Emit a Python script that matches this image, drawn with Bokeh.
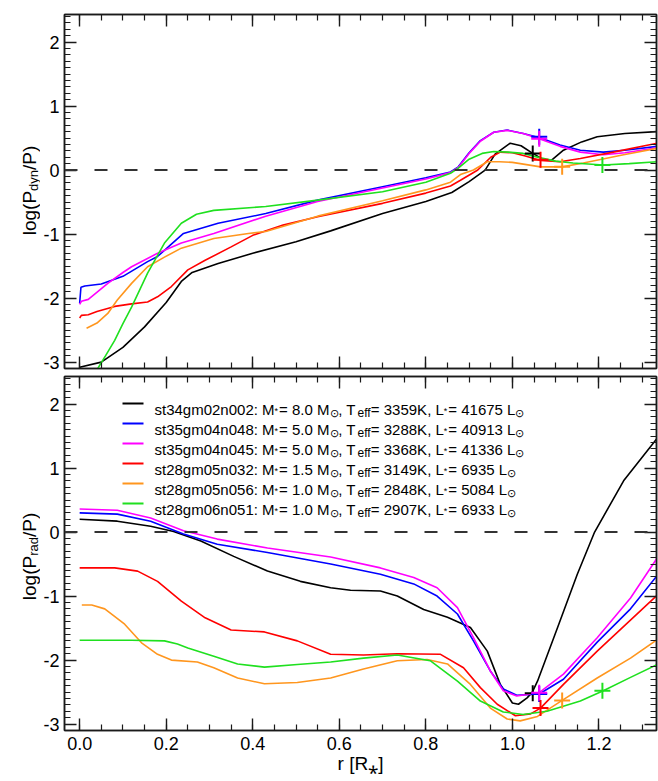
import math
from bokeh.plotting import figure
from bokeh.layouts import column, row
from bokeh.models import Range1d, LinearAxis, FixedTicker, Span, ColumnDataSource
from bokeh.core.properties import value
from bokeh.embed import file_html
from bokeh.resources import INLINE

# ---------------- data ----------------
MODELS = ["st34gm02n002", "st35gm04n048", "st35gm04n045",
          "st28gm05n032", "st28gm05n056", "st28gm06n051"]
MASS = ["8.0", "5.0", "5.0", "1.5", "1.0", "1.0"]
TEFF = ["3359", "3288", "3368", "3149", "2848", "2907"]
LUM = ["41675", "40913", "41336", "6935", "5084", "6933"]
COLORS = ["#000000", "#0000ff", "#ff00ff", "#ff0000", "#ff961e", "#1fe01f"]

# log(P_dyn/P)
DYN_R_BLACK = [0.0, 0.05, 0.10, 0.15, 0.20, 0.235, 0.26, 0.32, 0.40, 0.50, 0.58, 0.70, 0.80, 0.86, 0.90,
               0.937, 0.96, 0.995, 1.02, 1.047, 1.07, 1.09, 1.118, 1.16, 1.196, 1.26, 1.335]
DYN_Y_BLACK = [-3.08, -3.00, -2.77, -2.45, -2.07, -1.74, -1.60, -1.46, -1.30, -1.12, -0.95, -0.68, -0.49,
               -0.35, -0.18, 0.00, 0.25, 0.42, 0.38, 0.26, 0.17, 0.15, 0.31, 0.44, 0.52, 0.57, 0.60]
DYN_R_BLUE = [0.0, 0.003, 0.012, 0.05, 0.10, 0.157, 0.18, 0.21, 0.24, 0.32, 0.43, 0.55, 0.70, 0.80, 0.857,
              0.875, 0.90, 0.926, 0.957, 0.988, 1.025, 1.065, 1.11, 1.157, 1.21, 1.26, 1.335]
DYN_Y_BLUE = [-2.08, -1.83, -1.81, -1.78, -1.66, -1.43, -1.35, -1.17, -0.99, -0.83, -0.68, -0.47, -0.26,
              -0.12, -0.03, 0.05, 0.27, 0.46, 0.59, 0.625, 0.57, 0.50, 0.39, 0.31, 0.28, 0.31, 0.37]
DYN_R_MAGENTA = [0.0, 0.004, 0.02, 0.065, 0.10, 0.12, 0.18, 0.235, 0.31, 0.43, 0.55, 0.70, 0.80, 0.857,
                 0.875, 0.90, 0.926, 0.957, 0.988, 1.025, 1.062, 1.11, 1.157, 1.21, 1.26, 1.335]
DYN_Y_MAGENTA = [-2.10, -2.05, -2.02, -1.77, -1.60, -1.51, -1.30, -1.14, -0.99, -0.72, -0.49, -0.28, -0.14,
                 -0.04, 0.04, 0.26, 0.45, 0.59, 0.62, 0.57, 0.49, 0.37, 0.28, 0.24, 0.27, 0.35]
DYN_R_RED = [0.0, 0.004, 0.02, 0.04, 0.081, 0.12, 0.157, 0.18, 0.212, 0.25, 0.29, 0.35, 0.40, 0.47, 0.55,
             0.70, 0.80, 0.857, 0.88, 0.92, 0.95, 0.972, 1.00, 1.03, 1.065, 1.11, 1.157, 1.233, 1.335]
DYN_Y_RED = [-2.31, -2.27, -2.26, -2.21, -2.13, -2.09, -2.06, -1.98, -1.82, -1.56, -1.41, -1.20, -1.02,
             -0.86, -0.73, -0.52, -0.36, -0.25, -0.16, 0.00, 0.20, 0.28, 0.27, 0.22, 0.15, 0.13, 0.18,
             0.28, 0.42]
DYN_R_ORANGE = [0.016, 0.04, 0.065, 0.087, 0.12, 0.157, 0.196, 0.235, 0.31, 0.39, 0.43, 0.55, 0.70, 0.80,
                0.857, 0.88, 0.91, 0.942, 0.97, 1.0, 1.065, 1.115, 1.164, 1.257, 1.335]
DYN_Y_ORANGE = [-2.47, -2.39, -2.24, -2.03, -1.77, -1.51, -1.36, -1.22, -1.07, -0.99, -0.96, -0.72, -0.48,
                -0.31, -0.19, -0.07, 0.00, 0.13, 0.13, 0.12, 0.05, 0.05, 0.11, 0.24, 0.34]
DYN_R_GREEN = [0.04, 0.06, 0.081, 0.10, 0.12, 0.157, 0.196, 0.235, 0.27, 0.31, 0.43, 0.55, 0.70, 0.80,
               0.857, 0.875, 0.90, 0.93, 0.957, 0.99, 1.025, 1.065, 1.10, 1.14, 1.21, 1.27, 1.335]
DYN_Y_GREEN = [-3.12, -2.90, -2.66, -2.40, -2.14, -1.61, -1.14, -0.83, -0.69, -0.63, -0.57, -0.47, -0.34,
               -0.19, -0.05, 0.03, 0.17, 0.26, 0.29, 0.28, 0.26, 0.19, 0.14, 0.11, 0.08, 0.10, 0.13]

# log(P_rad/P)
RAD_R_BLACK = [0.0, 0.087, 0.164, 0.217, 0.28, 0.356, 0.434, 0.51, 0.58, 0.626, 0.695, 0.734, 0.795, 0.85,
               0.903, 0.942, 0.972, 1.0, 1.014, 1.034, 1.046, 1.058, 1.104, 1.15, 1.19, 1.257, 1.335]
RAD_Y_BLACK = [0.20, 0.17, 0.09, 0.01, -0.14, -0.38, -0.61, -0.77, -0.87, -0.91, -0.92, -1.00, -1.21,
               -1.33, -1.49, -1.86, -2.38, -2.67, -2.69, -2.59, -2.50, -2.33, -1.50, -0.66, 0.00, 0.80, 1.47]
RAD_R_BLUE = [0.0, 0.087, 0.164, 0.24, 0.318, 0.434, 0.58, 0.695, 0.772, 0.826, 0.873, 0.91, 0.949, 0.979,
              1.01, 1.062, 1.118, 1.196, 1.273, 1.337]
RAD_Y_BLUE = [0.30, 0.28, 0.17, -0.03, -0.19, -0.32, -0.50, -0.66, -0.81, -1.00, -1.28, -1.70, -2.17,
              -2.45, -2.55, -2.53, -2.30, -1.72, -1.20, -0.66]
RAD_R_MAGENTA = [0.0, 0.087, 0.164, 0.24, 0.318, 0.434, 0.58, 0.695, 0.772, 0.826, 0.873, 0.91, 0.949,
                 0.979, 1.01, 1.062, 1.118, 1.196, 1.273, 1.337]
RAD_Y_MAGENTA = [0.36, 0.34, 0.22, 0.02, -0.11, -0.25, -0.39, -0.56, -0.71, -0.87, -1.18, -1.65, -2.17,
                 -2.48, -2.56, -2.51, -2.22, -1.65, -1.03, -0.38]
RAD_R_RED = [0.0, 0.081, 0.134, 0.18, 0.235, 0.29, 0.35, 0.427, 0.503, 0.58, 0.656, 0.734, 0.834, 0.887,
             0.926, 0.965, 1.007, 1.042, 1.065, 1.118, 1.196, 1.337]
RAD_Y_RED = [-0.56, -0.56, -0.61, -0.77, -1.08, -1.34, -1.53, -1.56, -1.70, -1.91, -1.92, -1.90, -1.91,
             -2.12, -2.43, -2.69, -2.87, -2.84, -2.75, -2.38, -1.86, -0.97]
RAD_R_ORANGE = [0.005, 0.028, 0.058, 0.104, 0.143, 0.18, 0.212, 0.272, 0.31, 0.365, 0.427, 0.503, 0.58,
                0.656, 0.734, 0.803, 0.85, 0.903, 0.949, 0.988, 1.018, 1.058, 1.115, 1.196, 1.273, 1.337]
RAD_Y_ORANGE = [-1.14, -1.14, -1.20, -1.44, -1.73, -1.91, -2.00, -2.03, -2.12, -2.28, -2.37, -2.35, -2.28,
                -2.14, -2.01, -1.99, -2.06, -2.38, -2.75, -2.92, -2.95, -2.88, -2.63, -2.28, -1.97, -1.67]
RAD_R_GREEN = [0.0, 0.12, 0.196, 0.226, 0.25, 0.31, 0.365, 0.427, 0.503, 0.58, 0.656, 0.734, 0.81, 0.873,
               0.926, 0.979, 1.025, 1.08, 1.157, 1.21, 1.273, 1.337]
RAD_Y_GREEN = [-1.69, -1.69, -1.70, -1.75, -1.81, -1.94, -2.06, -2.11, -2.07, -2.03, -1.97, -1.92, -2.01,
               -2.33, -2.64, -2.81, -2.85, -2.80, -2.64, -2.48, -2.27, -2.06]

# "+" markers
MARK_R = [1.047, 1.062, 1.062, 1.065, 1.115, 1.208]
MARK_DYN = [0.26, 0.52, 0.49, 0.16, 0.05, 0.08]
MARK_RAD = [-2.52, -2.53, -2.51, -2.75, -2.63, -2.48]

X_TICKS = [0.0, 0.2, 0.4, 0.6, 0.8, 1.0, 1.2]
X_LABELS = ["0.0", "0.2", "0.4", "0.6", "0.8", "1.0", "1.2"]
Y_TICKS = [-3, -2, -1, 0, 1, 2]
Y_LABELS = ["-3", "-2", "-1", "0", "1", "2"]
X_TITLE = "r [R\u204e]"

# ---------------- layout constants ----------------
FONT = "Liberation Sans"
X_RANGE = (-0.035, 1.333)
Y_RANGE = (-3.1, 2.43)
FW, FH = 592, 354
LEFT_COL = 40          # width of the column holding the rotated y titles
FRAME_LEFT = 64        # page x of frame's left edge
PX_X = FW / (X_RANGE[1] - X_RANGE[0])
PX_Y = FH / (Y_RANGE[1] - Y_RANGE[0])
TOP_H = 14 + FH + 4     # 372
BOT_H = 781 - TOP_H     # 409
BOT_BORDER = BOT_H - 4 - FH

X_MINOR = [round(0.05 * i, 3) for i in range(0, 27)]
Y_MINOR = [round(-3.1 + 0.1 * i, 2) for i in range(0, 56)]

DYN_R = [DYN_R_BLACK, DYN_R_BLUE, DYN_R_MAGENTA, DYN_R_RED, DYN_R_ORANGE, DYN_R_GREEN]
DYN_Y = [DYN_Y_BLACK, DYN_Y_BLUE, DYN_Y_MAGENTA, DYN_Y_RED, DYN_Y_ORANGE, DYN_Y_GREEN]
RAD_R = [RAD_R_BLACK, RAD_R_BLUE, RAD_R_MAGENTA, RAD_R_RED, RAD_R_ORANGE, RAD_R_GREEN]
RAD_Y = [RAD_Y_BLACK, RAD_Y_BLUE, RAD_Y_MAGENTA, RAD_Y_RED, RAD_Y_ORANGE, RAD_Y_GREEN]

ARIAL = {' ': 278, ':': 278, ',': 278, '.': 278, '=': 584, '*': 389, 'K': 667, 'L': 556, 'M': 833,
         'T': 611, 'e': 556, 'f': 278, 'g': 556, 'm': 833, 'n': 556, 's': 500, 't': 278, 'l': 222,
         'o': 556, '(': 333, ')': 333, 'P': 667, '/': 278, 'd': 556, 'y': 500, 'r': 333, 'a': 556,
         '[': 278, ']': 278, 'R': 722, '\u2299': 800}
for _d in "0123456789":
    ARIAL[_d] = 556


def text_w(s, size):
    return sum(ARIAL.get(c, 556) for c in s) * size / 1000.0


def style_axis(ax, ticks, minor, labels=None):
    ax.ticker = FixedTicker(ticks=ticks, minor_ticks=minor)
    ax.major_tick_in = 12
    ax.major_tick_out = 0
    ax.minor_tick_in = 6
    ax.minor_tick_out = 0
    ax.axis_line_color = "#1a1a1a"
    ax.axis_line_width = 1.5
    ax.major_tick_line_color = "#1a1a1a"
    ax.major_tick_line_width = 1.4
    ax.minor_tick_line_color = "#1a1a1a"
    ax.minor_tick_line_width = 1.2
    ax.axis_label = None
    ax.axis_label_standoff = 0
    if labels is None:
        ax.major_label_text_font_size = "0px"
        ax.major_label_standoff = 0
        ax.major_label_overrides = {t: "" for t in ticks}
    else:
        ax.major_label_overrides = {t: l for t, l in zip(ticks, labels)}
        ax.major_label_text_font = FONT
        ax.major_label_text_font_size = "18px"
        ax.major_label_text_color = "#000000"


def make_panel(top_border, bottom_border, show_x_labels):
    p = figure(frame_width=FW, frame_height=FH, title=None,
               x_range=Range1d(*X_RANGE), y_range=Range1d(*Y_RANGE),
               output_backend="svg", toolbar_location=None,
               x_axis_location=None, y_axis_location=None,
               min_border_left=FRAME_LEFT - LEFT_COL, min_border_right=2,
               min_border_top=top_border, min_border_bottom=bottom_border)
    p.grid.visible = False
    p.outline_line_color = "#1a1a1a"
    p.outline_line_width = 1.5
    p.background_fill_color = "white"
    p.border_fill_color = "white"

    left = LinearAxis()
    style_axis(left, Y_TICKS, Y_MINOR, Y_LABELS)
    left.major_label_standoff = 5
    p.add_layout(left, "left")
    right = LinearAxis()
    style_axis(right, Y_TICKS, Y_MINOR, None)
    p.add_layout(right, "right")
    bottom = LinearAxis()
    style_axis(bottom, X_TICKS, X_MINOR, X_LABELS if show_x_labels else None)
    if show_x_labels:
        bottom.major_label_standoff = 6
        bottom.axis_label = X_TITLE
        bottom.axis_label_text_font = FONT
        bottom.axis_label_text_font_size = "19px"
        bottom.axis_label_text_font_style = "normal"
        bottom.axis_label_text_color = "#000000"
        bottom.axis_label_standoff = 0
    p.add_layout(bottom, "below")
    top = LinearAxis()
    style_axis(top, X_TICKS, X_MINOR, None)
    p.add_layout(top, "above")

    p.add_layout(Span(location=0, dimension="width", line_color="#333333",
                      line_width=2, line_dash="13 17"))
    return p


def blank_fig(w, h):
    f = figure(width=w, height=h, title=None, x_range=Range1d(0, w), y_range=Range1d(0, h),
               output_backend="svg", toolbar_location=None,
               x_axis_location=None, y_axis_location=None,
               min_border_left=0, min_border_right=0, min_border_top=0, min_border_bottom=0)
    f.grid.visible = False
    f.outline_line_color = None
    f.background_fill_color = "white"
    f.border_fill_color = "white"
    return f


def px2x(px):
    # page x pixel -> data x of the main panels
    return X_RANGE[0] + (px - FRAME_LEFT) / PX_X


def ytitle_fig(h, page_top, sub, center_page_y):
    f = blank_fig(LEFT_COL, h)
    main_fs, sub_fs = 19, 13
    segs = [("log(P", main_fs, 29), (sub, sub_fs, 33), ("/P)", main_fs, 29)]
    total = sum(text_w(s, fs) for s, fs, _ in segs)
    ypos = center_page_y + total / 2.0
    xs, ys, ts, sz = [], [], [], []
    for s, fs, bx in segs:
        xs.append(bx)
        ys.append(h - (ypos - page_top))
        ts.append(s)
        sz.append(f"{fs}px")
        ypos -= text_w(s, fs)
    src = ColumnDataSource(dict(x=xs, y=ys, text=ts, fs=sz))
    f.text(x="x", y="y", text="text", text_font_size="fs", angle=math.pi / 2,
           text_font=value(FONT), text_color="#000000", text_align="left",
           text_baseline="alphabetic", source=src)
    return f


def draw_curves(p, rs, ys, mark_y):
    for r, y, c in zip(rs, ys, COLORS):
        p.line(r, y, line_color=c, line_width=1.6)
    src = ColumnDataSource(dict(x=MARK_R, y=mark_y, c=COLORS))
    p.scatter("x", "y", source=src, marker="cross", size=16, line_width=2, line_color="c")


# ---------------- top panel ----------------
top = make_panel(14, 4, False)
draw_curves(top, DYN_R, DYN_Y, MARK_DYN)

# ---------------- bottom panel ----------------
bot = make_panel(4, BOT_BORDER, True)
draw_curves(bot, RAD_R, RAD_Y, MARK_RAD)
ZERO_BOT = TOP_H + 4 + 2.43 * PX_Y   # page y of value 0 in the lower panel

# legend (inside the lower panel)
LEG_X0, LEG_X1, TXT_X = 122, 143, 154
ROW0, ROW_STEP = 403, 20
seg_x0, seg_x1, seg_y = [], [], []
tx, ty, tt, tdx, tdy, tfs = [], [], [], [], [], []
for i in range(len(MODELS)):
    rowpx = ROW0 + i * ROW_STEP
    ydat = (ZERO_BOT - rowpx) / PX_Y
    seg_x0.append(px2x(LEG_X0))
    seg_x1.append(px2x(LEG_X1))
    seg_y.append(ydat)
    parts = [(MODELS[i] + ": M", 15, 5.5, 0), ("*", 9, 7.5, 1), ("= " + MASS[i] + " M", 15, 5.5, 0),
             ("\u2299", 11, 9.5, 0), (" , T", 15, 5.5, -2.5), ("eff", 12, 9.5, 0),
             ("= " + TEFF[i] + "K, L", 15, 5.5, 0), ("*", 9, 7.5, 1), ("= " + LUM[i] + " L", 15, 5.5, 0),
             ("\u2299", 11, 9.5, 0)]
    off = 0.0
    for s, f, dy, adj in parts:
        tx.append(px2x(TXT_X))
        ty.append(ydat)
        tt.append(s)
        tdx.append(off)
        tdy.append(dy)
        tfs.append(f"{f}px")
        off += text_w(s, f) + adj

bot.segment(x0=seg_x0, y0=seg_y, x1=seg_x1, y1=seg_y, line_color=COLORS, line_width=2)
tsrc = ColumnDataSource(dict(x=tx, y=ty, text=tt, dx=tdx, dy=tdy, fs=tfs))
bot.text(x="x", y="y", text="text", x_offset="dx", y_offset="dy", text_font_size="fs",
         text_font=value(FONT), text_color="#000000", text_align="left",
         text_baseline="alphabetic", source=tsrc)

# y titles in a narrow column on the left
yt_top = ytitle_fig(TOP_H, 0, "dyn", 190)
yt_bot = ytitle_fig(BOT_H, TOP_H, "rad", 556)

layout = row(column(yt_top, yt_bot, spacing=0), column(top, bot, spacing=0), spacing=0)
open("out.html", "w").write(file_html(layout, INLINE))
